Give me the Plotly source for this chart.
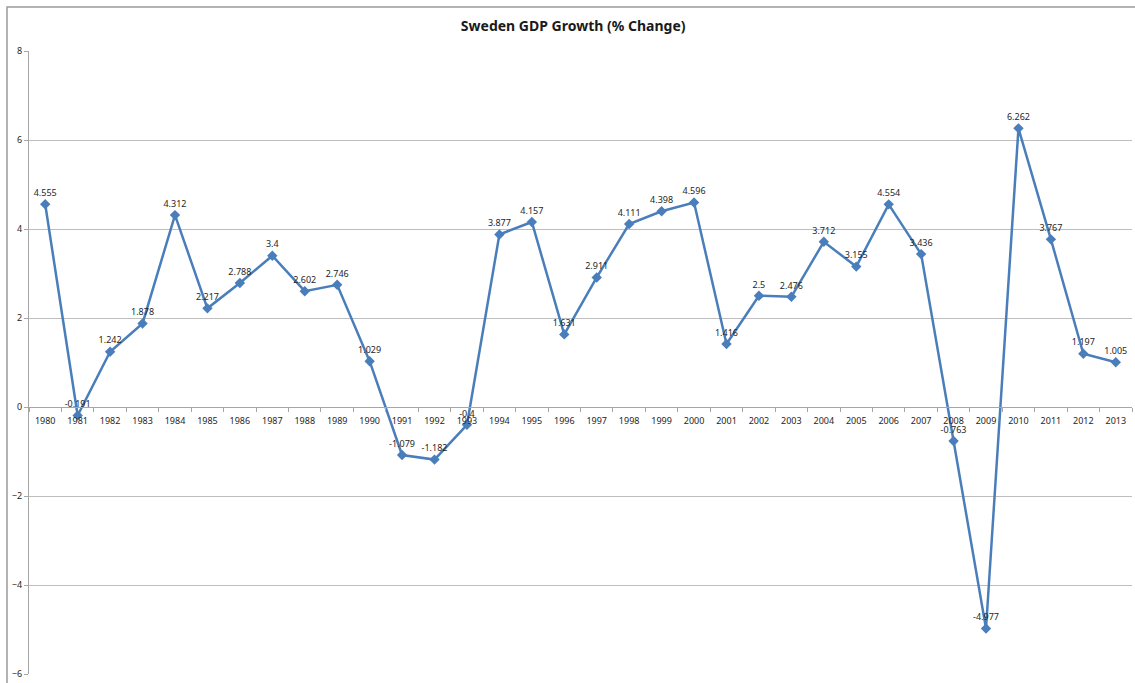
import plotly.graph_objects as go

years = [str(y) for y in range(1980, 2014)]
growth = [4.555, -0.191, 1.242, 1.878, 4.312, 2.217, 2.788, 3.4, 2.602, 2.746,
          1.029, -1.079, -1.182, -0.4, 3.877, 4.157, 1.631, 2.911, 4.111, 4.398,
          4.596, 1.416, 2.5, 2.476, 3.712, 3.155, 4.554, 3.436, -0.763, -4.977,
          6.262, 3.767, 1.197, 1.005]
labels = [f"{v:g}" for v in growth]
y_ticks = [-6, -4, -2, 0, 2, 4, 6, 8]

ymin, ymax = -6, 8
line_color = "#4A7EBB"
grid_color = "#BEBEBE"
font_family = "Noto Sans, Open Sans, sans-serif"

fig = go.Figure()
fig.add_trace(go.Scatter(
    x=years, y=growth, mode="lines+markers+text",
    line=dict(color=line_color, width=2.5),
    marker=dict(symbol="diamond", size=8, color=line_color),
    text=labels, textposition="top center",
    textfont=dict(size=9, color="#262626", family=font_family),
    cliponaxis=False, showlegend=False,
))

fig.update_layout(
    width=1135, height=683,
    margin=dict(l=29, r=3, t=51, b=9),
    paper_bgcolor="white", plot_bgcolor="white",
    title=dict(text="<b>Sweden GDP Growth (% Change)</b>", x=0.505, xanchor="center",
               y=0.962, yanchor="middle",
               font=dict(size=14, color="#1a1a1a", family=font_family)),
    font=dict(family=font_family, size=9, color="#262626"),
    xaxis=dict(
        type="category", anchor="free", position=(0 - ymin) / (ymax - ymin),
        range=[-0.5, len(years) - 0.5], autorange=False,
        showline=True, linecolor="#A6A6A6", linewidth=1.2,
        ticks="outside", ticklen=4, tickcolor="#A6A6A6", tickson="boundaries",
        ticklabelstandoff=5,
        showgrid=False, zeroline=False,
        tickfont=dict(size=9, color="#262626"),
    ),
    yaxis=dict(
        range=[ymin, ymax], tickvals=y_ticks, showgrid=True, gridcolor=grid_color,
        gridwidth=1.2, zeroline=False, showline=True, linecolor="#A6A6A6", linewidth=1.2,
        ticks="outside", ticklen=4, tickcolor="#A6A6A6",
        tickfont=dict(size=9, color="#262626"),
    ),
    shapes=[dict(type="rect", xref="paper", yref="paper",
                 x0=-22 / 1103, x1=1.05, y0=-0.05, y1=1 + 44 / 623,
                 line=dict(color="#9A9A9A", width=1.5), fillcolor="rgba(0,0,0,0)",
                 layer="below")],
)

fig.write_html("out.html")
